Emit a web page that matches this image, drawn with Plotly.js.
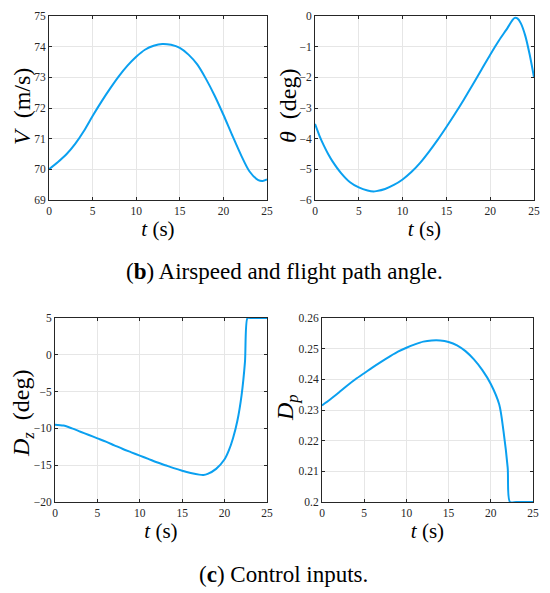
<!DOCTYPE html>
<html>
<head>
<meta charset="utf-8">
<script src="https://cdn.plot.ly/plotly-3.0.1.min.js"></script>
<style>html,body{margin:0;padding:0;background:#fff;}#chart{width:550px;height:593px;}</style>
</head>
<body>
<div id="chart"></div>
<script>
// Time samples (s)
const tV = [0,1,2,3,4,5,6,7,8,9,10,11,12,13,14,15,16,17,18,19,20,21,22,23,24,24.5,25];
const airspeed = [70.0,70.23,70.49,70.83,71.25,71.74,72.2,72.63,73.03,73.38,73.67,73.9,74.03,74.09,74.06,73.96,73.74,73.42,72.95,72.4,71.78,71.12,70.48,69.93,69.65,69.62,69.67];

const tTheta = [0,0.5,1,1.5,2,3,4,5,6,6.7,7,8,9,10,11,12,13,14,15,16,17,18,19,20,21,22,22.5,22.8,23.1,23.5,24,24.5,25];
const theta = [-3.52,-3.9,-4.22,-4.5,-4.74,-5.13,-5.42,-5.59,-5.69,-5.72,-5.71,-5.64,-5.51,-5.33,-5.09,-4.79,-4.43,-4.04,-3.62,-3.18,-2.72,-2.24,-1.75,-1.26,-0.8,-0.38,-0.15,-0.06,-0.08,-0.24,-0.64,-1.25,-2.0];

const tDz = [0,1,2,3,4,5,6,7,8,9,10,11,12,13,14,15,16,17,17.5,18,19,20,20.5,21,21.5,22,22.4,22.7,23,24,25];
const dz = [-9.5,-9.62,-10.0,-10.45,-10.9,-11.35,-11.8,-12.3,-12.8,-13.25,-13.7,-14.15,-14.6,-15.0,-15.4,-15.75,-16.05,-16.28,-16.32,-16.18,-15.5,-14.2,-13.0,-11.3,-9.0,-5.5,-1.0,5,5,5,5];

const tDp = [0,1,2,3,4,5,6,7,8,9,10,11,12,13,14,15,16,17,18,19,20,21,21.5,22,22.27,23,24,25];
const dp = [0.2315,0.2335,0.2357,0.238,0.2401,0.242,0.2439,0.2457,0.2474,0.249,0.2503,0.2514,0.2523,0.2527,0.2527,0.2522,0.2511,0.2492,0.2465,0.243,0.2385,0.2318,0.2232,0.2112,0.2,0.2,0.2,0.2];

const xTicks = [0,5,10,15,20,25];
const vTicks = [69,70,71,72,73,74,75];
const thetaTicks = [-6,-5,-4,-3,-2,-1,0];
const dzTicks = [-20,-15,-10,-5,0,5];
const dpTicks = [0.2,0.21,0.22,0.23,0.24,0.25,0.26];
const dpTickText = ['0.2','0.21','0.22','0.23','0.24','0.25','0.26'];

const yTitles = ['<i>V</i>  (m/s)', '<i>θ</i>  (deg)', '<i>D<sub>z</sub></i>  (deg)', '<i>D<sub>p</sub></i>'];
const xTitle = '<i>t</i> (s)';
const captions = ['(<b>b</b>) Airspeed and flight path angle.', '(<b>c</b>) Control inputs.'];

const lineColor = '#0aa0f0';
const serif = 'Liberation Serif';
const axCol = '#262626';

function trace(x, y, xa, ya) {
  return {x: x, y: y, xaxis: xa, yaxis: ya, type: 'scatter', mode: 'lines',
    line: {color: lineColor, width: 2, shape: 'spline', smoothing: 0.8}, hoverinfo: 'skip'};
}

function xaxis(domain, anchor) {
  return {domain: domain, anchor: anchor, range: [0,25], tickvals: xTicks,
    showline: true, mirror: 'ticks', linecolor: axCol, linewidth: 1,
    ticks: 'inside', ticklen: 3, tickcolor: axCol,
    showgrid: true, gridcolor: '#e6e6e6', gridwidth: 1, zeroline: false,
    tickfont: {family: serif, size: 11.5, color: axCol},
    title: {text: xTitle, font: {family: serif, size: 21, color: '#000'}, standoff: 3}};
}
function yaxis(domain, anchor, range, ticks, ticktext) {
  const a = {domain: domain, anchor: anchor, range: range, tickvals: ticks,
    showline: true, mirror: 'ticks', linecolor: axCol, linewidth: 1,
    ticks: 'inside', ticklen: 3, tickcolor: axCol,
    showgrid: true, gridcolor: '#e6e6e6', gridwidth: 1, zeroline: false,
    tickfont: {family: serif, size: 11.5, color: axCol}};
  if (ticktext) a.ticktext = ticktext;
  return a;
}

const W = 550, H = 593;
const dx = (a, b) => [a / W, b / W];
const dy = (top, bottom) => [1 - bottom / H, 1 - top / H];

function yTitle(text, px, py) {
  return {text: text, xref: 'paper', yref: 'paper', x: px / W, y: 1 - py / H,
    xanchor: 'center', yanchor: 'middle', textangle: -90, showarrow: false,
    font: {family: serif, size: 24, color: '#000'}};
}
function caption(text, px, py) {
  return {text: text, xref: 'paper', yref: 'paper', x: px / W, y: 1 - py / H,
    xanchor: 'center', yanchor: 'middle', showarrow: false,
    font: {family: serif, size: 23, color: '#000'}};
}

const data = [
  trace(tV, airspeed, 'x', 'y'),
  trace(tTheta, theta, 'x2', 'y2'),
  trace(tDz, dz, 'x3', 'y3'),
  trace(tDp, dp, 'x4', 'y4')
];

const layout = {
  width: W, height: H, margin: {l: 0, r: 0, t: 0, b: 0},
  paper_bgcolor: '#fff', plot_bgcolor: '#fff', showlegend: false,
  xaxis: xaxis(dx(49, 267), 'y'),
  yaxis: yaxis(dy(16, 200), 'x', [69, 75], vTicks),
  xaxis2: xaxis(dx(315, 534), 'y2'),
  yaxis2: yaxis(dy(16, 200), 'x2', [-6, 0], thetaTicks),
  xaxis3: xaxis(dx(55, 267), 'y3'),
  yaxis3: yaxis(dy(318, 502), 'x3', [-20, 5], dzTicks),
  xaxis4: xaxis(dx(322, 533), 'y4'),
  yaxis4: yaxis(dy(318, 502), 'x4', [0.2, 0.26], dpTicks, dpTickText),
  annotations: [
    yTitle(yTitles[0], 22, 107),
    yTitle(yTitles[1], 288, 106),
    yTitle(yTitles[2], 23, 413),
    yTitle(yTitles[3], 287, 408),
    caption(captions[0], 284, 271),
    caption(captions[1], 283, 574)
  ]
};

Plotly.newPlot('chart', data, layout, {displayModeBar: false, staticPlot: true});
</script>
</body>
</html>
